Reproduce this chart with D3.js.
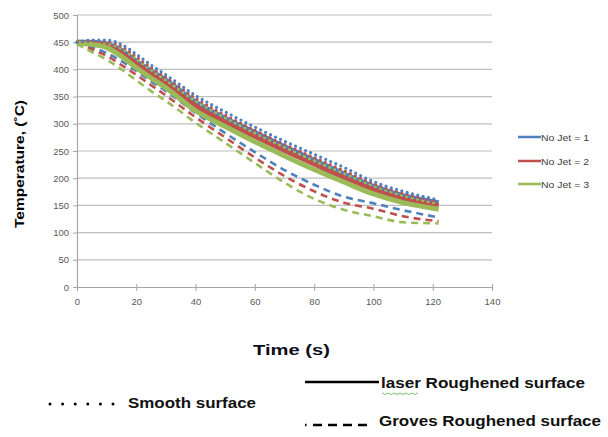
<!DOCTYPE html>
<html><head><meta charset="utf-8">
<script src="https://cdn.jsdelivr.net/npm/d3@7"></script>
<style>
html,body{margin:0;padding:0;background:#fff;}
svg{display:block;font-family:"Liberation Sans",Arial,sans-serif;}
</style></head>
<body><svg id="c" width="608" height="437"></svg>
<script>
const times = [0,5,10,15,20,25,30,40,50,60,70,80,90,100,110,122];
const smooth1 = [450,454,454,446,428,408,390,352,322,294,268,244,220,194,176,160];
const smooth2 = [450,452,451,442,423,403,385,347,316,288,262,238,214,190,172,157];
const smooth3 = [450,450,448,438,419,399,380,342,311,283,257,232,209,186,168,153];
const laser1  = [450,450,447,435,415,397,380,340,310,284,258,233,208,185,168,155];
const laser2  = [450,448,444,430,410,392,374,333,303,277,251,226,201,179,162,150];
const laser3  = [448,446,440,424,403,384,366,324,295,267,241,216,193,171,155,143];
const groves1 = [450,441,430,415,397,378,360,320,283,248,215,188,166,154,141,128];
const groves2 = [450,437,425,408,390,371,352,312,275,238,204,176,155,144,130,121];
const groves3 = [447,432,418,400,380,360,342,302,265,228,192,162,142,130,119,117];
const xTicks = [0,20,40,60,80,100,120,140];
const yTicks = [0,50,100,150,200,250,300,350,400,450,500];
const jetLabels = ["No Jet = 1","No Jet = 2","No Jet = 3"];
const surfaceLabels = ["Smooth surface","laser Roughened surface","Groves Roughened surface"];

const colors = ["#4F81BD","#C0504D","#9BBB59"];
const svg = d3.select("#c");
const x = d3.scaleLinear().domain([0,140]).range([77,492]);
const y = d3.scaleLinear().domain([0,500]).range([287,15]);

// gridlines
svg.append("g").selectAll("line").data(yTicks.filter(d=>d>0)).join("line")
  .attr("x1",x(0)).attr("x2",x(140)).attr("y1",d=>y(d)).attr("y2",d=>y(d))
  .attr("stroke","#BEBEBE").attr("stroke-width",1.2);

// axes
const gy = svg.append("g").attr("transform",`translate(${x(0)},0)`)
  .call(d3.axisLeft(y).tickValues(yTicks).tickSize(4).tickPadding(4));
const gx = svg.append("g").attr("transform",`translate(0,${y(0)})`)
  .call(d3.axisBottom(x).tickValues(xTicks).tickSize(4).tickPadding(7));
[gx,gy].forEach(g=>{
  g.select(".domain").attr("stroke","#A6A6A6").attr("stroke-width",1.2);
  g.selectAll(".tick line").attr("stroke","#A6A6A6");
  g.selectAll("text").attr("fill","#595959").attr("font-size",9.5).attr("font-family","Liberation Sans, Arial, sans-serif");
});
gx.selectAll(".tick line").attr("y1",-3);

const line = d3.line().x((d,i)=>x(times[i])).y(d=>y(d)).curve(d3.curveMonotoneX);

const groves = [groves1,groves2,groves3];
const laser = [laser1,laser2,laser3];
const smooth = [smooth1,smooth2,smooth3];

groves.forEach((s,i)=>svg.append("path").attr("d",line(s)).attr("fill","none")
  .attr("stroke",colors[i]).attr("stroke-width",2.6).attr("stroke-dasharray","7,5"));
laser.forEach((s,i)=>svg.append("path").attr("d",line(s)).attr("fill","none")
  .attr("stroke",colors[i]).attr("stroke-width",5));
smooth.slice().reverse().forEach((s,j)=>{const i=2-j; svg.append("path").attr("d",line(s)).attr("fill","none")
  .attr("stroke",colors[i]).attr("stroke-width",3.2).attr("stroke-linecap","round").attr("stroke-dasharray","0,5.5");});

// right legend
const lg = svg.append("g");
jetLabels.forEach((t,i)=>{
  const yy = [137,161,184][i];
  lg.append("line").attr("x1",518).attr("x2",541).attr("y1",yy).attr("y2",yy)
    .attr("stroke",colors[i]).attr("stroke-width",2.5);
  lg.append("text").attr("x",541).attr("y",yy+3.5).text(t)
    .attr("font-size",9).attr("fill","#404040").attr("textLength",48).attr("lengthAdjust","spacingAndGlyphs");
});

// axis titles
svg.append("text").attr("transform","translate(24,164) rotate(-90)")
  .attr("text-anchor","middle").attr("font-weight","bold").attr("font-size",13)
  .attr("fill","#000").attr("textLength",128).attr("lengthAdjust","spacingAndGlyphs").text("Temperature, (˚C)");
svg.append("text").attr("x",253).attr("y",355)
  .attr("font-weight","bold").attr("font-size",15).attr("fill","#0d0d1a")
  .attr("textLength",77).attr("lengthAdjust","spacingAndGlyphs").text("Time (s)");

// bottom legend
const bl = svg.append("g").attr("font-weight","bold").attr("font-size",15).attr("fill","#111");
bl.append("line").attr("x1",50).attr("x2",114).attr("y1",404).attr("y2",404)
  .attr("stroke","#000").attr("stroke-width",3).attr("stroke-linecap","round").attr("stroke-dasharray","0,12.6");
bl.append("text").attr("x",128).attr("y",408).text(surfaceLabels[0]).attr("textLength",128).attr("lengthAdjust","spacingAndGlyphs");
bl.append("line").attr("x1",305).attr("x2",379).attr("y1",382).attr("y2",382)
  .attr("stroke","#000").attr("stroke-width",2.5);
bl.append("text").attr("x",381).attr("y",388).text(surfaceLabels[1]).attr("textLength",204).attr("lengthAdjust","spacingAndGlyphs");
bl.append("path").attr("d",d3.range(0,13).map(k=>(k===0?"M":"L")+(382+k*3)+","+(393+(k%2?1.5:0))).join(""))
  .attr("fill","none").attr("stroke","#4CAF50").attr("stroke-width",0.8);
bl.append("line").attr("x1",305).attr("x2",306.5).attr("y1",425).attr("y2",425).attr("stroke","#000").attr("stroke-width",2.5);
bl.append("line").attr("x1",313).attr("x2",369).attr("y1",425).attr("y2",425)
  .attr("stroke","#000").attr("stroke-width",2.5).attr("stroke-dasharray","9,6");
bl.append("text").attr("x",379).attr("y",426).text(surfaceLabels[2]).attr("textLength",222).attr("lengthAdjust","spacingAndGlyphs");
</script></body></html>
